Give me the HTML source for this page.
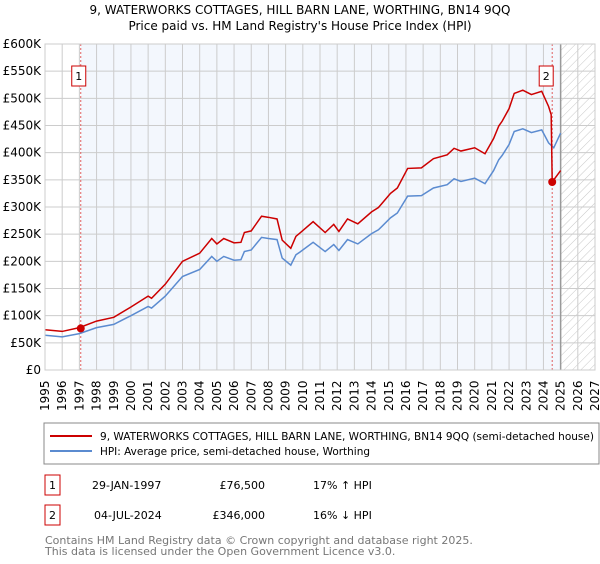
<!DOCTYPE html>
<html><head><meta charset="utf-8"><style>
body{margin:0;background:#fff;font-family:"DejaVu Sans","Liberation Sans",sans-serif;}
svg text{font-family:"DejaVu Sans","Liberation Sans",sans-serif;}
</style></head><body>
<svg id="c" width="600" height="560" xmlns="http://www.w3.org/2000/svg">
<defs><pattern id="hatch" width="6" height="6" patternUnits="userSpaceOnUse" patternTransform="rotate(45)"><line x1="0" y1="0" x2="0" y2="6" stroke="#c8c8c8" stroke-width="1"/></pattern></defs>
<text x="300" y="14" text-anchor="middle" font-size="12">9, WATERWORKS COTTAGES, HILL BARN LANE, WORTHING, BN14 9QQ</text>
<text x="300" y="30" text-anchor="middle" font-size="12">Price paid vs. HM Land Registry's House Price Index (HPI)</text>
<g id="plot"></g>
<rect x="44" y="423" width="555" height="41" fill="#fff" stroke="#888"/>
<line x1="50" y1="436" x2="92" y2="436" stroke="#cc0000" stroke-width="2"/>
<text x="100" y="440" font-size="11" textLength="494" lengthAdjust="spacingAndGlyphs">9, WATERWORKS COTTAGES, HILL BARN LANE, WORTHING, BN14 9QQ (semi-detached house)</text>
<line x1="50" y1="451" x2="92" y2="451" stroke="#5b8bd0" stroke-width="2"/>
<text x="100" y="455" font-size="11" textLength="270" lengthAdjust="spacingAndGlyphs">HPI: Average price, semi-detached house, Worthing</text>
<g font-size="11">
<rect x="45" y="475" width="15" height="20" fill="#fff" stroke="#cc0000"/>
<text x="52.5" y="489" text-anchor="middle">1</text>
<text x="92" y="489">29-JAN-1997</text><text x="265" y="489" text-anchor="end">£76,500</text><text x="313" y="489">17% ↑ HPI</text>
<rect x="45" y="505" width="15" height="20" fill="#fff" stroke="#cc0000"/>
<text x="52.5" y="519" text-anchor="middle">2</text>
<text x="94" y="519">04-JUL-2024</text><text x="265" y="519" text-anchor="end">£346,000</text><text x="313" y="519">16% ↓ HPI</text>
</g>
<text x="45" y="544" font-size="11" fill="#777">Contains HM Land Registry data © Crown copyright and database right 2025.</text>
<text x="45" y="555" font-size="11" fill="#777">This data is licensed under the Open Government Licence v3.0.</text>
</svg>
<script>
const hpiYears=[1995,1996,1997,1998,1999,2000,2001,2001.2,2002,2003,2004,2004.7,2005,2005.4,2006,2006.4,2006.6,2007,2007.6,2008,2008.5,2008.8,2009.3,2009.6,2009.83,2010.6,2011.3,2011.8,2012.1,2012.6,2013.2,2014,2014.4,2015.1,2015.5,2016.1,2016.9,2017.6,2018.4,2018.8,2019.2,2020,2020.6,2021.1,2021.4,2021.6,2022,2022.3,2022.8,2023.3,2023.9,2024.3,2024.6,2025];
const hpiValues=[64,61,67,78,84,100,117,114,136,172,185,209,200,209,202,203,218,221,244,242,240,206,193,212,217,235,218,231,220,240,232,251,258,280,289,320,321,335,341,352,347,353,343,367,387,395,415,439,444,437,442,418,409,436];
const priceYears=[1995,1996,1997,1998,1999,2000,2001,2001.2,2002,2003,2004,2004.7,2005,2005.4,2006,2006.4,2006.6,2007,2007.6,2008,2008.5,2008.8,2009.3,2009.6,2009.83,2010.6,2011.3,2011.8,2012.1,2012.6,2013.2,2014,2014.4,2015.1,2015.5,2016.1,2016.9,2017.6,2018.4,2018.8,2019.2,2020,2020.6,2021.1,2021.4,2021.6,2022,2022.3,2022.8,2023.3,2023.9,2024.3,2024.45,2024.51,2025];
const priceValues=[74,71,78,90,97,116,136,132,158,200,215,242,232,242,234,235,253,256,283,281,278,239,224,246,252,273,253,268,255,278,269,291,299,325,335,371,372,389,396,408,403,409,398,426,449,458,481,509,515,507,513,485,470,346,367];
const saleYears=[1997.08,2024.51];
const saleValues=[76.5,346];
const saleLabels=["1","2"];
const yTicks=[0,50,100,150,200,250,300,350,400,450,500,550,600];
const xTicks=[1995,1996,1997,1998,1999,2000,2001,2002,2003,2004,2005,2006,2007,2008,2009,2010,2011,2012,2013,2014,2015,2016,2017,2018,2019,2020,2021,2022,2023,2024,2025,2026,2027];
const L=45,R=595,T=44,B=370;
const X=y=>L+(y-1995)/(2027-1995)*(R-L);
const Y=v=>B-v/600*(B-T);
const NS="http://www.w3.org/2000/svg";
const g=document.getElementById('plot');
function mk(t,a){const e=document.createElementNS(NS,t);for(const k in a)e.setAttribute(k,a[k]);g.appendChild(e);return e;}
let e;
e=mk('rect',{x:L,y:T,width:R-L,height:B-T,fill:'#fff'});


e=mk('rect',{x:X(saleYears[0]),y:T,width:X(2025)-X(saleYears[0]),height:B-T,fill:'#eef3fc',opacity:0.7});


e=mk('rect',{x:X(2025),y:T,width:R-X(2025),height:B-T,fill:'url(#hatch)'});


xTicks.forEach(t=>{e=mk('line',{x1:X(t),x2:X(t),y1:T,y2:B,stroke:'#ccc','stroke-width':1});


e=mk('text',{x:0,y:0,'font-size':12,transform:`translate(${X(t)+4},${B+41}) rotate(-90)`});e.textContent=t;

});
yTicks.forEach(t=>{e=mk('line',{x1:L,x2:R,y1:Y(t),y2:Y(t),stroke:'#ccc','stroke-width':1});


e=mk('text',{x:L-4,y:Y(t)+4,'text-anchor':'end','font-size':12});e.textContent=t===0?'£0':'£'+t+'K';

});
e=mk('line',{x1:X(2025),x2:X(2025),y1:T,y2:B,stroke:'#999','stroke-width':1.5});


saleYears.forEach((s,i)=>{e=mk('line',{x1:X(s),x2:X(s),y1:T,y2:B,stroke:'#e06060','stroke-width':1,'stroke-dasharray':'2,2'});

});
e=mk('polyline',{points:hpiYears.map((y,i)=>X(y)+','+Y(hpiValues[i])).join(' '),fill:'none',stroke:'#5b8bd0','stroke-width':1.5});


e=mk('polyline',{points:priceYears.map((y,i)=>X(y)+','+Y(priceValues[i])).join(' '),fill:'none',stroke:'#cc0000','stroke-width':1.5});


saleYears.forEach((s,i)=>{e=mk('circle',{cx:X(s),cy:Y(saleValues[i]),r:4,fill:'#cc0000'});


e=mk('rect',{x:X(s)-9-(i?4:0),y:66,width:14,height:20,fill:'#fff',stroke:'#cc0000'});


e=mk('text',{x:X(s)-2-(i?4:0),y:80,'text-anchor':'middle','font-size':11});e.textContent=saleLabels[i];

});
e=mk('rect',{x:L,y:T,width:R-L,height:B-T,fill:'none',stroke:'#ccc'});


</script>
</body></html>
